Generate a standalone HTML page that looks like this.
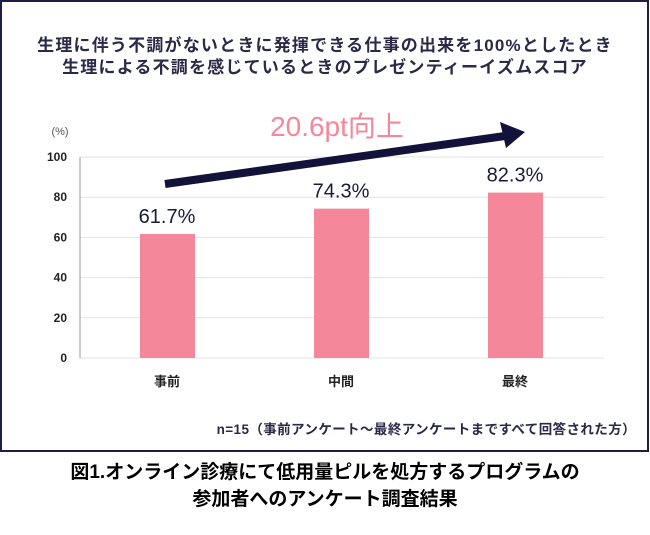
<!DOCTYPE html>
<html><head><meta charset="utf-8"><style>
body{margin:0;background:#fff;width:650px;height:530px;overflow:hidden;font-family:"Liberation Sans","Noto Sans CJK JP",sans-serif}
svg text{font-family:"Liberation Sans","Noto Sans CJK JP",sans-serif}
</style></head><body>
<svg width="650" height="530">
<rect x="1" y="1" width="647" height="450" fill="#fff" stroke="#1f1f45" stroke-width="2"/>
<text x="325" y="51" text-anchor="middle" font-size="17" letter-spacing="1.2" font-weight="bold" fill="#2a2a48">生理に伴う不調がないときに発揮できる仕事の出来を100%としたとき</text>
<text x="325" y="73" text-anchor="middle" font-size="17" letter-spacing="1.2" font-weight="bold" fill="#2a2a48">生理による不調を感じているときのプレゼンティーイズムスコア</text>
<text x="60" y="135" text-anchor="middle" font-size="11" fill="#555">(%)</text>
<g id="grid"></g>
<g id="bars"></g>
<line x1="165" y1="184" x2="505" y2="136" stroke="#12123a" stroke-width="8"/>
<polygon points="525,132 500,122 506,148" fill="#12123a"/>
<text x="337" y="136" text-anchor="middle" font-size="28" fill="#f4879a">20.6pt向上</text>
<text x="636" y="434" text-anchor="end" font-size="13.5" letter-spacing="0.4" font-weight="bold" fill="#2a2a48">n=15（事前アンケート～最終アンケートまですべて回答された方）</text>
<text x="325" y="478" text-anchor="middle" font-size="19" font-weight="bold" fill="#000">図1.オンライン診療にて低用量ピルを処方するプログラムの</text>
<text x="325" y="505" text-anchor="middle" font-size="19" font-weight="bold" fill="#000">参加者へのアンケート調査結果</text>
</svg>
<script>
const categories=["事前","中間","最終"];
const values=[61.7,74.3,82.3];
const valueLabels=["61.7%","74.3%","82.3%"];
const ticks=[0,20,40,60,80,100];
const NS="http://www.w3.org/2000/svg";
const y=v=>358-v*2.01;
const x=i=>167+i*174;
function mk(t,a,p){const e=document.createElementNS(NS,t);for(const k in a)e.setAttribute(k,a[k]);p.appendChild(e);return e;}
const g=document.getElementById('grid'),b=document.getElementById('bars');
ticks.forEach(t=>{
 const l=mk('line',{x1:80,x2:604,y1:y(t),y2:y(t),stroke:'#e3e3e3','stroke-width':1},g);
 
 
 const tx=mk('text',{x:67,y:y(t)+4,'text-anchor':'end','font-size':12,'font-weight':'bold',fill:'#222'},g);
 tx.textContent=t;
 
 
});
const ax=mk('line',{x1:80,x2:80,y1:y(100),y2:y(0),stroke:'#999','stroke-width':1},g);


categories.forEach((c,i)=>{
 const r=mk('rect',{x:x(i)-27,y:y(values[i]),width:55,height:y(0)-y(values[i]),fill:'#f4879a'},b);
 
 
 const v=mk('text',{x:x(i),y:y(values[i])-11,'text-anchor':'middle','font-size':20,fill:'#1a1a3a'},b);
 v.textContent=valueLabels[i];
 
 
 const cl=mk('text',{x:x(i),y:386,'text-anchor':'middle','font-size':13,'font-weight':'bold',fill:'#222'},b);
 cl.textContent=c;
 
 
});
</script>
</body></html>
